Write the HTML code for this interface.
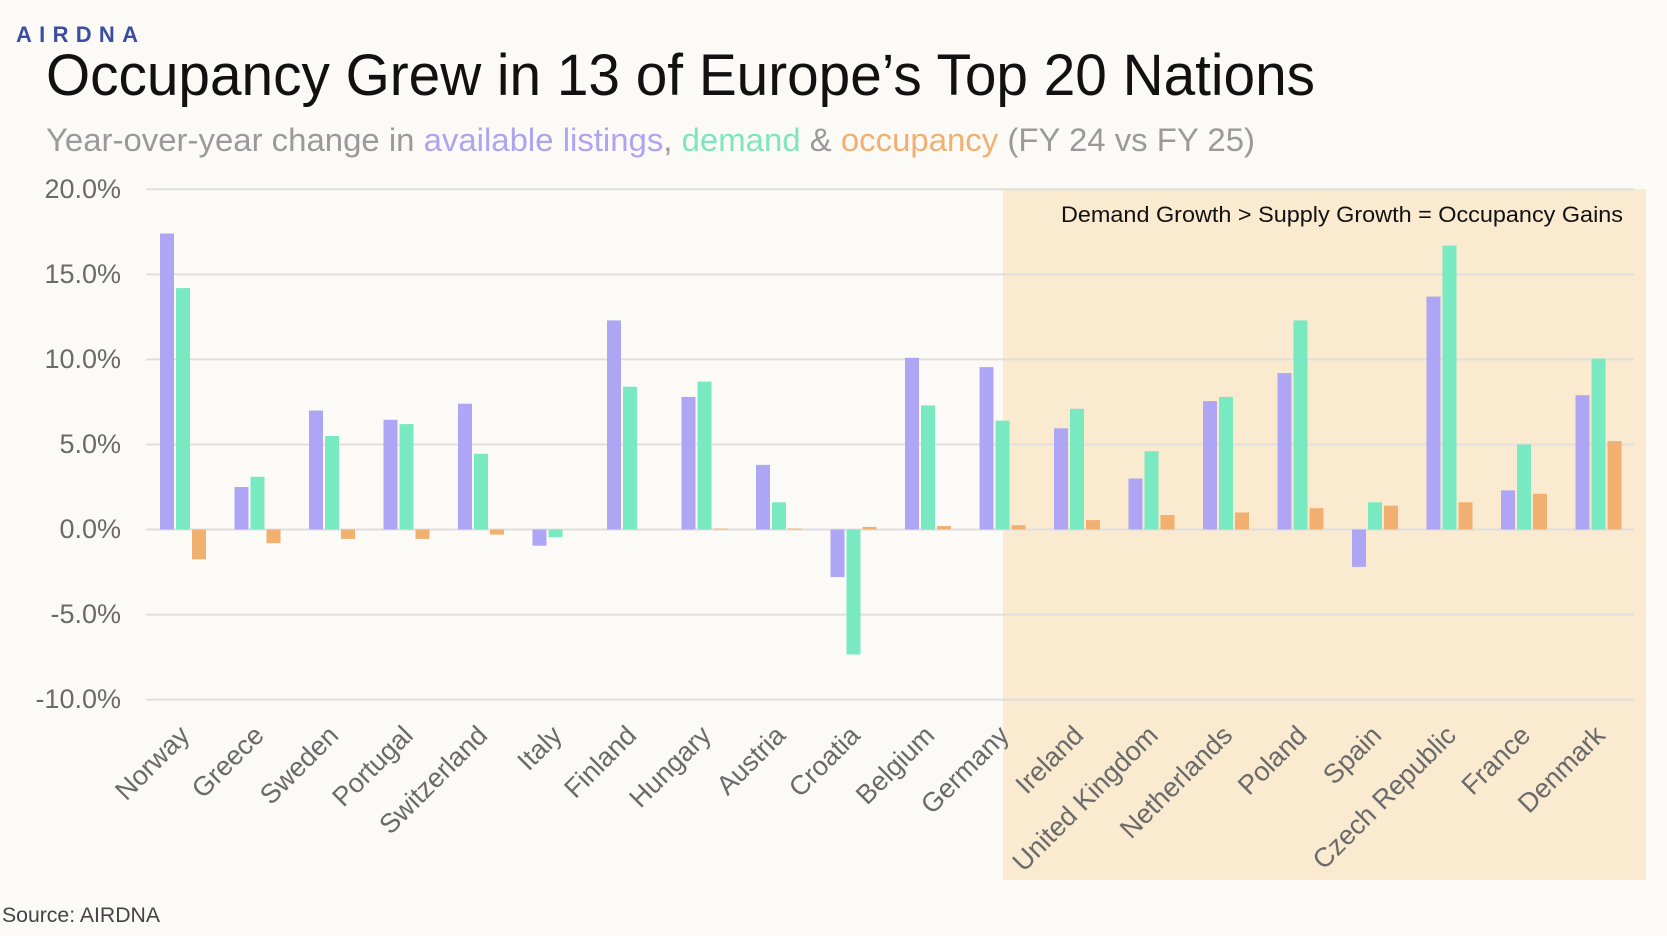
<!DOCTYPE html>
<html><head><meta charset="utf-8"><style>
html,body{margin:0;padding:0;background:#fbfaf7;}
svg{display:block;font-family:"Liberation Sans",Arial,sans-serif;}
</style></head><body>
<svg width="1667" height="936" viewBox="0 0 1667 936" xmlns="http://www.w3.org/2000/svg">
<rect width="1667" height="936" fill="#fbfaf7"/>
<rect x="1003" y="189" width="643" height="691" fill="#f9ead0"/>
<text x="16" y="42" font-size="22" fill="#3b4ea0" font-weight="bold" textLength="122" lengthAdjust="spacing">AIRDNA</text>
<text x="46" y="95" font-size="58" fill="#111" textLength="1269" lengthAdjust="spacingAndGlyphs">Occupancy Grew in 13 of Europe’s Top 20 Nations</text>
<text x="46" y="151" font-size="32" fill="#9a9a9a" textLength="1209" lengthAdjust="spacingAndGlyphs">Year-over-year change in <tspan fill="#aea4f0">available listings</tspan>, <tspan fill="#7de6bf">demand</tspan> &amp; <tspan fill="#f2b070">occupancy</tspan> (FY 24 vs FY 25)</text>
<g stroke="#e0dfdc" stroke-width="2">
<line x1="146" x2="1634" y1="189.3" y2="189.3"/>
<line x1="146" x2="1634" y1="274.4" y2="274.4"/>
<line x1="146" x2="1634" y1="359.4" y2="359.4"/>
<line x1="146" x2="1634" y1="444.5" y2="444.5"/>
<line x1="146" x2="1634" y1="529.5" y2="529.5"/>
<line x1="146" x2="1634" y1="614.6" y2="614.6"/>
<line x1="146" x2="1634" y1="699.6" y2="699.6"/>
</g>
<g font-size="27" fill="#6a6a6a" text-anchor="end">
<text x="121" y="198">20.0%</text>
<text x="121" y="283">15.0%</text>
<text x="121" y="368">10.0%</text>
<text x="121" y="453">5.0%</text>
<text x="121" y="538">0.0%</text>
<text x="121" y="623">-5.0%</text>
<text x="121" y="708">-10.0%</text>
</g>
<text x="1061" y="222" font-size="22" fill="#111" textLength="562" lengthAdjust="spacingAndGlyphs">Demand Growth &gt; Supply Growth = Occupancy Gains</text>
<g fill="#aea6f4">
<rect x="160" y="233.5" width="14" height="296"/>
<rect x="234.5" y="487" width="14" height="42.5"/>
<rect x="309" y="410.5" width="14" height="119"/>
<rect x="383.5" y="419.8" width="14" height="109.7"/>
<rect x="458" y="403.7" width="14" height="125.8"/>
<rect x="532.5" y="529.5" width="14" height="16.2"/>
<rect x="607" y="320.4" width="14" height="209.1"/>
<rect x="681.5" y="396.9" width="14" height="132.6"/>
<rect x="756" y="464.9" width="14" height="64.6"/>
<rect x="830.5" y="529.5" width="14" height="47.6"/>
<rect x="905" y="357.8" width="14" height="171.7"/>
<rect x="979.5" y="367.1" width="14" height="162.4"/>
<rect x="1054" y="428.3" width="14" height="101.2"/>
<rect x="1128.5" y="478.5" width="14" height="51"/>
<rect x="1203" y="401.1" width="14" height="128.4"/>
<rect x="1277.5" y="373.1" width="14" height="156.4"/>
<rect x="1352" y="529.5" width="14" height="37.4"/>
<rect x="1426.5" y="296.6" width="14" height="232.9"/>
<rect x="1501" y="490.4" width="14" height="39.1"/>
<rect x="1575.5" y="395.2" width="14" height="134.3"/>
</g>
<g fill="#78e9c1">
<rect x="176" y="288.1" width="14" height="241.4"/>
<rect x="250.5" y="476.8" width="14" height="52.7"/>
<rect x="325" y="436" width="14" height="93.5"/>
<rect x="399.5" y="424.1" width="14" height="105.4"/>
<rect x="474" y="453.8" width="14" height="75.7"/>
<rect x="548.5" y="529.5" width="14" height="7.7"/>
<rect x="623" y="386.7" width="14" height="142.8"/>
<rect x="697.5" y="381.6" width="14" height="147.9"/>
<rect x="772" y="502.3" width="14" height="27.2"/>
<rect x="846.5" y="529.5" width="14" height="125"/>
<rect x="921" y="405.4" width="14" height="124.1"/>
<rect x="995.5" y="420.7" width="14" height="108.8"/>
<rect x="1070" y="408.8" width="14" height="120.7"/>
<rect x="1144.5" y="451.3" width="14" height="78.2"/>
<rect x="1219" y="396.9" width="14" height="132.6"/>
<rect x="1293.5" y="320.4" width="14" height="209.1"/>
<rect x="1368" y="502.3" width="14" height="27.2"/>
<rect x="1442.5" y="245.6" width="14" height="283.9"/>
<rect x="1517" y="444.5" width="14" height="85"/>
<rect x="1591.5" y="358.6" width="14" height="170.9"/>
</g>
<g fill="#f2b070">
<rect x="192" y="529.5" width="14" height="29.8"/>
<rect x="266.5" y="529.5" width="14" height="13.6"/>
<rect x="341" y="529.5" width="14" height="9.4"/>
<rect x="415.5" y="529.5" width="14" height="9.4"/>
<rect x="490" y="529.5" width="14" height="5.1"/>
<rect x="713.5" y="528.5" width="14" height="1"/>
<rect x="788" y="528.5" width="14" height="1"/>
<rect x="862.5" y="526.9" width="14" height="2.6"/>
<rect x="937" y="526.1" width="14" height="3.4"/>
<rect x="1011.5" y="525.2" width="14" height="4.3"/>
<rect x="1086" y="520.1" width="14" height="9.4"/>
<rect x="1160.5" y="515" width="14" height="14.5"/>
<rect x="1235" y="512.5" width="14" height="17"/>
<rect x="1309.5" y="508.2" width="14" height="21.3"/>
<rect x="1384" y="505.7" width="14" height="23.8"/>
<rect x="1458.5" y="502.3" width="14" height="27.2"/>
<rect x="1533" y="493.8" width="14" height="35.7"/>
<rect x="1607.5" y="441.1" width="14" height="88.4"/>
</g>
<g font-size="27" fill="#6a6a6a" text-anchor="end">
<text transform="translate(191,737) rotate(-45)">Norway</text>
<text transform="translate(265.5,737) rotate(-45)">Greece</text>
<text transform="translate(340,737) rotate(-45)">Sweden</text>
<text transform="translate(414.5,737) rotate(-45)">Portugal</text>
<text transform="translate(489,737) rotate(-45)">Switzerland</text>
<text transform="translate(563.5,737) rotate(-45)">Italy</text>
<text transform="translate(638,737) rotate(-45)">Finland</text>
<text transform="translate(712.5,737) rotate(-45)">Hungary</text>
<text transform="translate(787,737) rotate(-45)">Austria</text>
<text transform="translate(861.5,737) rotate(-45)">Croatia</text>
<text transform="translate(936,737) rotate(-45)">Belgium</text>
<text transform="translate(1010.5,737) rotate(-45)">Germany</text>
<text transform="translate(1085,737) rotate(-45)">Ireland</text>
<text transform="translate(1159.5,737) rotate(-45)">United Kingdom</text>
<text transform="translate(1234,737) rotate(-45)">Netherlands</text>
<text transform="translate(1308.5,737) rotate(-45)">Poland</text>
<text transform="translate(1383,737) rotate(-45)">Spain</text>
<text transform="translate(1457.5,737) rotate(-45)">Czech Republic</text>
<text transform="translate(1532,737) rotate(-45)">France</text>
<text transform="translate(1606.5,737) rotate(-45)">Denmark</text>
</g>
<text x="2" y="922" font-size="21" fill="#444" textLength="158" lengthAdjust="spacingAndGlyphs">Source: AIRDNA</text>
</svg>
</body></html>
